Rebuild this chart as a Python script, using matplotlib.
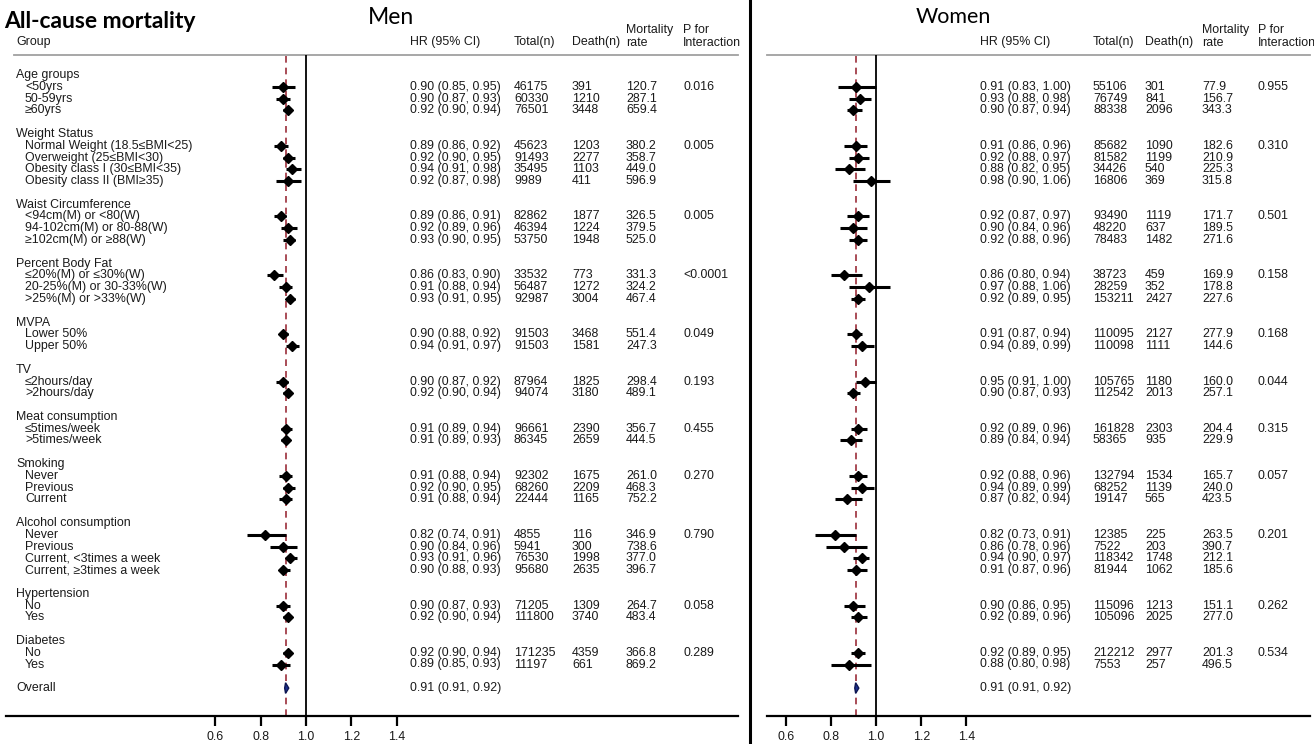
import matplotlib.pyplot as plt
import matplotlib.transforms as mtransforms

# ---- data ----------------------------------------------------------------
groups = ["Age groups", "Weight Status", "Waist Circumference", "Percent Body Fat",
          "MVPA", "TV", "Meat consumption", "Smoking", "Alcohol consumption",
          "Hypertension", "Diabetes"]
items = [
    ["<50yrs", "50-59yrs", "≥60yrs"],
    ["Normal Weight (18.5≤BMI<25)", "Overweight (25≤BMI<30)",
     "Obesity class I (30≤BMI<35)", "Obesity class II (BMI≥35)"],
    ["<94cm(M) or <80(W)", "94-102cm(M) or 80-88(W)", "≥102cm(M) or ≥88(W)"],
    ["≤20%(M) or ≤30%(W)", "20-25%(M) or 30-33%(W)", ">25%(M) or >33%(W)"],
    ["Lower 50%", "Upper 50%"],
    ["≤2hours/day", ">2hours/day"],
    ["≤5times/week", ">5times/week"],
    ["Never", "Previous", "Current"],
    ["Never", "Previous", "Current, <3times a week", "Current, ≥3times a week"],
    ["No", "Yes"],
    ["No", "Yes"],
]

men_hr = [0.90, 0.90, 0.92, 0.89, 0.92, 0.94, 0.92, 0.89, 0.92, 0.93, 0.86, 0.91, 0.93,
          0.90, 0.94, 0.90, 0.92, 0.91, 0.91, 0.91, 0.92, 0.91, 0.82, 0.90, 0.93, 0.90,
          0.90, 0.92, 0.92, 0.89]
men_lo = [0.85, 0.87, 0.90, 0.86, 0.90, 0.91, 0.87, 0.86, 0.89, 0.90, 0.83, 0.88, 0.91,
          0.88, 0.91, 0.87, 0.90, 0.89, 0.89, 0.88, 0.90, 0.88, 0.74, 0.84, 0.91, 0.88,
          0.87, 0.90, 0.90, 0.85]
men_hi = [0.95, 0.93, 0.94, 0.92, 0.95, 0.98, 0.98, 0.91, 0.96, 0.95, 0.90, 0.94, 0.95,
          0.92, 0.97, 0.92, 0.94, 0.94, 0.93, 0.94, 0.95, 0.94, 0.91, 0.96, 0.96, 0.93,
          0.93, 0.94, 0.94, 0.93]
men_total = [46175, 60330, 76501, 45623, 91493, 35495, 9989, 82862, 46394, 53750, 33532,
             56487, 92987, 91503, 91503, 87964, 94074, 96661, 86345, 92302, 68260, 22444,
             4855, 5941, 76530, 95680, 71205, 111800, 171235, 11197]
men_death = [391, 1210, 3448, 1203, 2277, 1103, 411, 1877, 1224, 1948, 773, 1272, 3004,
             3468, 1581, 1825, 3180, 2390, 2659, 1675, 2209, 1165, 116, 300, 1998, 2635,
             1309, 3740, 4359, 661]
men_rate = ["120.7", "287.1", "659.4", "380.2", "358.7", "449.0", "596.9", "326.5", "379.5",
            "525.0", "331.3", "324.2", "467.4", "551.4", "247.3", "298.4", "489.1", "356.7",
            "444.5", "261.0", "468.3", "752.2", "346.9", "738.6", "377.0", "396.7", "264.7",
            "483.4", "366.8", "869.2"]
men_p = ["0.016", "0.005", "0.005", "<0.0001", "0.049", "0.193", "0.455", "0.270",
         "0.790", "0.058", "0.289"]
men_overall = (0.91, 0.91, 0.92)

women_hr = [0.91, 0.93, 0.90, 0.91, 0.92, 0.88, 0.98, 0.92, 0.90, 0.92, 0.86, 0.97, 0.92,
            0.91, 0.94, 0.95, 0.90, 0.92, 0.89, 0.92, 0.94, 0.87, 0.82, 0.86, 0.94, 0.91,
            0.90, 0.92, 0.92, 0.88]
women_lo = [0.83, 0.88, 0.87, 0.86, 0.88, 0.82, 0.90, 0.87, 0.84, 0.88, 0.80, 0.88, 0.89,
            0.87, 0.89, 0.91, 0.87, 0.89, 0.84, 0.88, 0.89, 0.82, 0.73, 0.78, 0.90, 0.87,
            0.86, 0.89, 0.89, 0.80]
women_hi = [1.00, 0.98, 0.94, 0.96, 0.97, 0.95, 1.06, 0.97, 0.96, 0.96, 0.94, 1.06, 0.95,
            0.94, 0.99, 1.00, 0.93, 0.96, 0.94, 0.96, 0.99, 0.94, 0.91, 0.96, 0.97, 0.96,
            0.95, 0.96, 0.95, 0.98]
women_total = [55106, 76749, 88338, 85682, 81582, 34426, 16806, 93490, 48220, 78483, 38723,
               28259, 153211, 110095, 110098, 105765, 112542, 161828, 58365, 132794, 68252,
               19147, 12385, 7522, 118342, 81944, 115096, 105096, 212212, 7553]
women_death = [301, 841, 2096, 1090, 1199, 540, 369, 1119, 637, 1482, 459, 352, 2427, 2127,
               1111, 1180, 2013, 2303, 935, 1534, 1139, 565, 225, 203, 1748, 1062, 1213,
               2025, 2977, 257]
women_rate = ["77.9", "156.7", "343.3", "182.6", "210.9", "225.3", "315.8", "171.7", "189.5",
              "271.6", "169.9", "178.8", "227.6", "277.9", "144.6", "160.0", "257.1", "204.4",
              "229.9", "165.7", "240.0", "423.5", "263.5", "390.7", "212.1", "185.6", "151.1",
              "277.0", "201.3", "496.5"]
women_p = ["0.955", "0.310", "0.501", "0.158", "0.168", "0.044", "0.315", "0.057",
           "0.201", "0.262", "0.534"]
women_overall = (0.91, 0.91, 0.92)

ticks = [0.6, 0.8, 1.0, 1.2, 1.4]

# ---- layout (pixels) -------------------------------------------------------
W, H = 1314, 744
ROW0, ROWH = 75, 11.79      # y of first row, row step
TOP, BOT = 55, 716          # header rule, x-axis line
FS = 8.9
TXT = "#1a1a1a"

plt.rcParams["font.family"] = ["Liberation Sans", "DejaVu Sans"]

fig = plt.figure(figsize=(W / 100, H / 100), dpi=100)
bg = fig.add_axes([0, 0, 1, 1])
bg.set_xlim(0, W)
bg.set_ylim(H, 0)
bg.axis("off")

# row index of every group header / item / overall
head_rows, item_rows = [], []
r = 0
for g, its in zip(groups, items):
    head_rows.append(r)
    first = r + 1
    item_rows.extend(range(first, first + len(its)))
    r = first + len(its) + 1
overall_row = r


def panel(x0, x1, x_one, unit, cols, hr, lo, hi, total, death, rate, pv, overall,
          labels=True):
    a = 1 - (x_one - x0) / unit
    b = 1 + (x1 - x_one) / unit
    ax = fig.add_axes([x0 / W, 1 - BOT / H, (x1 - x0) / W, (BOT - TOP) / H])
    ax.set_xlim(a, b)
    ax.set_ylim((BOT - ROW0) / ROWH, (TOP - ROW0) / ROWH)
    ax.patch.set_alpha(0)
    for s in ["top", "right", "left"]:
        ax.spines[s].set_visible(False)
    ax.spines["bottom"].set_linewidth(1.6)
    ax.set_yticks([])
    ax.set_xticks(ticks)
    ax.set_xticklabels([f"{t:.1f}" for t in ticks])
    ax.tick_params(axis="x", length=7.5, width=1.6, pad=3, labelsize=FS, labelcolor=TXT)

    ax.axvline(1.0, color="black", lw=1.3, zorder=1)
    ax.axvline(overall[0], color="#9b2d3a", lw=1.2, ls=(0, (4, 3)), zorder=1)

    # estimates
    ax.hlines(item_rows, lo, hi, color="black", lw=2.2, zorder=3)
    ax.plot(hr, item_rows, ls="none", marker="D", ms=4.6, color="black", zorder=4)
    # overall summary diamond
    m, l, h = overall
    ax.fill([l - 0.004, m, h + 0.004, m], [overall_row, overall_row - 0.45,
                                         overall_row, overall_row + 0.45],
            color="#1c2f8f", ec="#0b1550", lw=1, zorder=4)

    tr = mtransforms.blended_transform_factory(bg.transData, ax.transData)
    kw = dict(transform=tr, va="center", fontsize=FS, color=TXT)
    xg, xhr, xtot, xdeath, xrate, xp = cols
    for i, g in enumerate(groups):
        if labels:
            ax.text(xg, head_rows[i], g, **kw)
        ax.text(xp, head_rows[i] + 1, pv[i], **kw)
    k = 0
    for i, its in enumerate(items):
        for it in its:
            rr = item_rows[k]
            if labels:
                ax.text(xg + 9, rr, it, **kw)
            ax.text(xhr, rr, f"{hr[k]:.2f} ({lo[k]:.2f}, {hi[k]:.2f})", **kw)
            ax.text(xtot, rr, str(total[k]), **kw)
            ax.text(xdeath, rr, str(death[k]), **kw)
            ax.text(xrate, rr, rate[k], **kw)
            k += 1
    if labels:
        ax.text(xg, overall_row, "Overall", **kw)
    ax.text(xhr, overall_row, f"{m:.2f} ({l:.2f}, {h:.2f})", **kw)

    # header
    hk = dict(va="center", fontsize=FS, color=TXT)
    if labels:
        bg.text(xg, 42, "Group", **hk)
    bg.text(xhr, 42, "HR (95% CI)", **hk)
    bg.text(xtot, 42, "Total(n)", **hk)
    bg.text(xdeath, 42, "Death(n)", **hk)
    bg.text(xrate, 30, "Mortality", **hk)
    bg.text(xrate, 42.5, "rate", **hk)
    bg.text(xp, 30, "P for", **hk)
    bg.text(xp, 42.5, "Interaction", **hk)
    return ax


# Men
panel(6, 738, 306, 227, (16, 410, 514, 572, 626, 683),
      men_hr, men_lo, men_hi, men_total, men_death, men_rate, men_p, men_overall)
bg.plot([14, 738], [TOP, TOP], color="#a0a0a0", lw=1.3)

# Women
panel(767, 1310, 876, 226, (767, 980, 1093, 1145, 1202, 1258),
      women_hr, women_lo, women_hi, women_total, women_death, women_rate, women_p,
      women_overall, labels=False)
bg.plot([767, 1310], [TOP, TOP], color="#a0a0a0", lw=1.3)

# divider between panels
bg.plot([750, 750], [0, H], color="black", lw=2.2)

# titles
bg.text(4, 22, "All-cause mortality", fontsize=16.5, fontweight="bold",
        family=["Lato", "DejaVu Sans"], va="center")
bg.text(368, 17, "Men", fontsize=16.5, family=["Lato", "DejaVu Sans"], va="center")
bg.text(916, 17, "Women", fontsize=15.5, family=["Lato", "DejaVu Sans"], va="center")

fig.savefig("out.png", dpi=100)
